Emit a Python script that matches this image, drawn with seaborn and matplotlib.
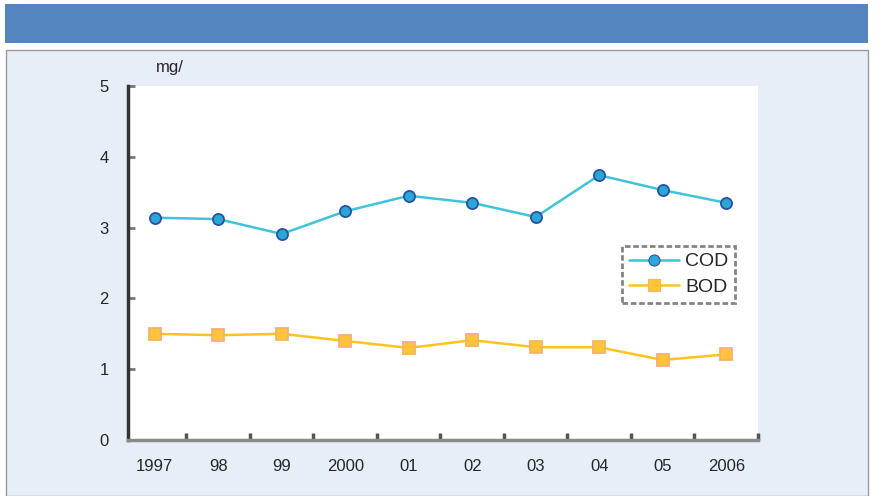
import seaborn as sns, pandas as pd
import matplotlib.pyplot as plt
from matplotlib.patches import Rectangle

years = ['1997', '98', '99', '2000', '01', '02', '03', '04', '05', '2006']
cod = [3.14, 3.12, 2.91, 3.23, 3.45, 3.35, 3.15, 3.74, 3.53, 3.35]
bod = [1.50, 1.48, 1.50, 1.40, 1.30, 1.41, 1.31, 1.31, 1.13, 1.21]

def compose_data():
    rows = []
    for i, y in enumerate(years):
        rows.append([i, y, cod[i], 'COD'])
        rows.append([i, y, bod[i], 'BOD'])
    return pd.DataFrame(rows, columns=['pos', 'year', 'value', 'item'])

data = compose_data()

sns.set_style('white')
plt.rcParams['font.family'] = ['Liberation Sans', 'DejaVu Sans']

fig = plt.figure(figsize=(8.74, 4.96), dpi=100)
fig.patch.set_facecolor('white')
W, H = 874, 496
# header bar and panel, kept behind the axes
fig.patches.append(Rectangle((5 / W, 1 - 43 / H), 863 / W, 39 / H, transform=fig.transFigure,
                             facecolor='#5585BF', edgecolor='none', zorder=-10))
fig.patches.append(Rectangle((6 / W, 0), 862 / W, 1 - 50 / H, transform=fig.transFigure,
                             facecolor='#E8EEF7', edgecolor='#9a9a9a', linewidth=1.0, zorder=-10))

ax = fig.add_axes([128 / W, 1 - 440 / H, 630 / W, 354 / H])
ax.set_facecolor('white')

mfcs = ['#2AA7D4', '#FFC43A']
mecs = ['#2850A8', '#F7B070']
sns.lineplot(data=data, x='pos', y='value', hue='item', style='item',
             palette={'COD': '#3EC3DA', 'BOD': '#FFC21E'},
             markers={'COD': 'o', 'BOD': 's'}, dashes=False, linewidth=1.8,
             markersize=8, ax=ax)
for line, mfc, mec in zip(ax.lines[:2], mfcs, mecs):
    line.set_markerfacecolor(mfc)
    line.set_markeredgecolor(mec)
    line.set_markeredgewidth(1.3)

ax.set_xlim(-0.42, 9.47)
ax.set_ylim(0, 5)
ax.set_xticks(range(len(years)))
ax.set_xticklabels(years, fontsize=12)
ax.set_xticks([i + 0.5 for i in range(len(years))], minor=True)
ax.tick_params(axis='x', which='major', bottom=True, length=0, pad=14)
ax.tick_params(axis='x', which='minor', bottom=True, direction='in', length=5, width=2.5, color='#555555')
ax.set_yticks(range(6))
ax.tick_params(axis='y', left=True, direction='in', length=5, width=2, color='#777777', labelsize=12, pad=14)
ax.set_xlabel('')
ax.set_ylabel('')

for s in ['top', 'right']:
    ax.spines[s].set_visible(False)
ax.spines['left'].set_color('#333333')
ax.spines['left'].set_linewidth(2.5)
ax.spines['bottom'].set_color('#8a8a8a')
ax.spines['bottom'].set_linewidth(2.5)

ax.text(0.045, 1.03, 'mg/', transform=ax.transAxes, fontsize=12, ha='left', va='bottom')

handles, labels = ax.get_legend_handles_labels()
for h, mfc, mec in zip(handles, mfcs, mecs):
    h.set_markerfacecolor(mfc)
    h.set_markeredgecolor(mec)
leg = ax.legend(handles, labels, loc='upper left', bbox_to_anchor=(0.784, 0.548),
                fontsize=14, frameon=True, fancybox=False, handlelength=2.6,
                borderpad=0.35, labelspacing=0.4, handletextpad=0.3, borderaxespad=0)
leg.get_frame().set_edgecolor('#666666')
leg.get_frame().set_linestyle((0, (2, 1)))
leg.get_frame().set_linewidth(2.0)

fig.savefig('out.png', dpi=100)
